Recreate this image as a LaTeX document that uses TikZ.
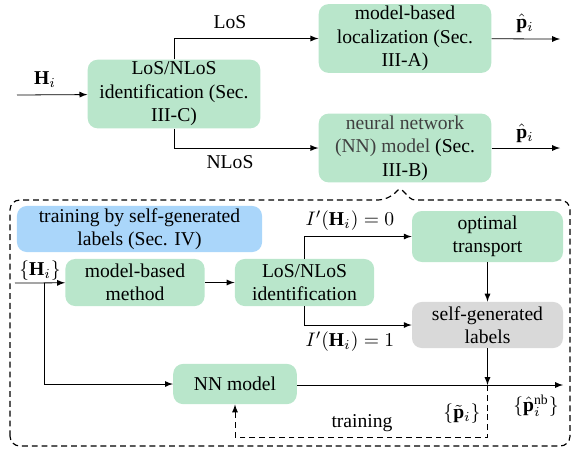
\documentclass[tikz,border=0pt]{standalone}
\usepackage{fontspec}
\setmainfont{Liberation Serif}
\usepackage{tikz}
\usetikzlibrary{positioning}
\definecolor{mint}{RGB}{185,230,203}
\definecolor{sky}{RGB}{170,214,250}
\definecolor{labelgray}{RGB}{217,217,217}

\begin{document}
\begin{tikzpicture}[x=0.51pt, y=-0.51pt,
        block/.style={rectangle, rounded corners=5pt, fill=mint, align=center, inner sep=1pt},
        bigblock/.style={block, minimum width=88pt, minimum height=35pt},
        smallblock/.style={block, minimum width=71pt, minimum height=24pt},
        link/.style={->, >=latex},
        trainlink/.style={->, >=latex, densely dashed},
        tag/.style={inner sep=0pt}
      ]
        \useasboundingbox (0,0) rectangle (580,452);

        % top part
        \node[bigblock]  (los)   at (174, 94)    {LoS/NLoS\\identification (Sec.\\III-C)};
        \node[bigblock]  (loc)   at (405, 38.5)  {model-based\\localization (Sec.\\III-A)};
        \node[bigblock]  (nnt)   at (405, 148)   {\textcolor{black!75}{neural network}\\\textcolor{black!75}{(NN) model} (Sec.\\III-B)};
        \coordinate (hin)   at (17, 95);
        \coordinate (pout1) at (560, 39);
        \coordinate (pout2) at (560, 148);

        \draw[link] (hin) -- (los);
        \draw[link] (los.north) |- (loc.west);
        \draw[link] (los.south) |- (nnt.west);
        \draw[link] (loc) -- (pout1);
        \draw[link] (nnt) -- (pout2);

        \node[tag] (hlab)  at (45, 80)   {$\mathbf{H}_i$};
        \node[tag] (loslab) at (230, 22) {LoS};
        \node[tag] (nloslab) at (230, 162) {NLoS};
        \node[tag] (p1lab) at (525, 23)  {$\hat{\mathbf{p}}_i$};
        \node[tag] (p2lab) at (525, 133) {$\hat{\mathbf{p}}_i$};

        % self-generated labels part
        \draw[semithick, dash pattern=on 3pt off 2pt, rounded corners=5pt]
          (10,446) -- (10,200) -- (388,200) [rounded corners=1.5pt] -- (400,188) -- (412,200)
          [rounded corners=5pt] -- (570,200) -- (570,446) -- cycle;

        \node[block, fill=sky, minimum width=125pt, minimum height=23.5pt] (train) at (139.5, 229) {training by self-generated\\labels (Sec. IV)};
        \node[smallblock] (method) at (135, 282.5)  {model-based\\method};
        \node[smallblock] (ident)  at (304.5, 282.5) {LoS/NLoS\\identification};
        \node[block, minimum width=77pt, minimum height=26pt]   (ot)   at (487.5, 236.5) {optimal\\transport};
        \node[block, fill=labelgray, minimum width=77pt, minimum height=23.5pt] (self) at (487.5, 325) {self-generated\\labels};
        \node[block, minimum width=63pt, minimum height=20.5pt]  (nn)   at (235, 384)   {NN model};

        \coordinate (hin2) at (15, 283);
        \coordinate (split) at (44, 283);
        \coordinate (pout3) at (563, 385);
        \coordinate (jn) at (self.south |- pout3);

        \draw[link] (hin2) -- (method);
        \draw[link] (split) |- (nn.west);
        \draw[link] (method) -- (ident);
        \draw[link] (ident.north) |- (ot.west);
        \draw[link] (ident.south) |- (self.west);
        \draw[link] (ot) -- (self);
        \draw[link] (self) -- (jn);
        \draw[link] (nn.east |- pout3) -- (pout3);
        \draw[trainlink] (jn) -- ++(0,52) -| (nn.south);

        \node[tag] (hset)  at (40, 271)    {$\{\mathbf{H}_i\}$};
        \node[tag] (ilab0) at (350, 221)   {$I'(\mathbf{H}_i)=0$};
        \node[tag] (ilab1) at (350, 342)   {$I'(\mathbf{H}_i)=1$};
        \node[tag] (pnb)   at (536, 406)   {$\{\hat{\mathbf{p}}_i^{\mathrm{nb}}\}$};
        \node[tag] (ptil)  at (462, 414)   {$\{\tilde{\mathbf{p}}_i\}$};
        \node[tag] (tlab)  at (362, 423)   {training};
      \end{tikzpicture}
\end{document}
